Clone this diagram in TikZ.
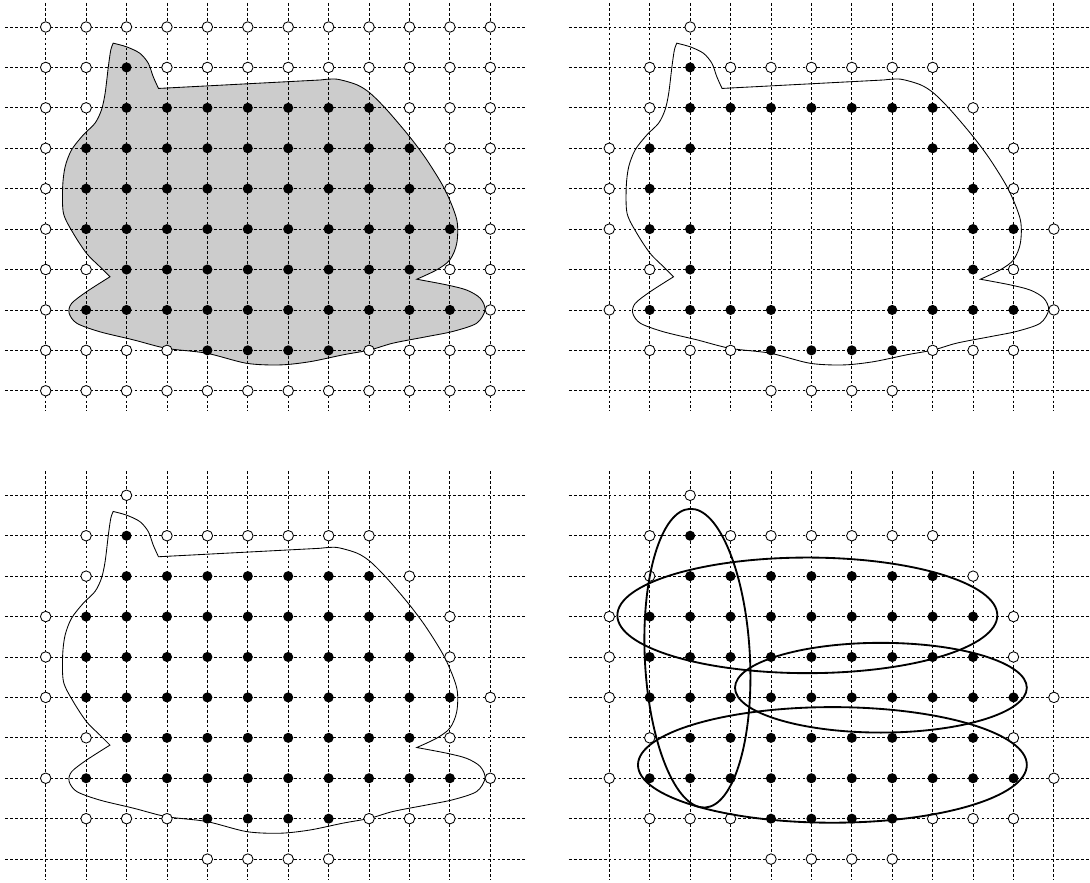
\documentclass[tikz,border=0pt]{standalone}
\begin{document}
\begin{tikzpicture}[
  gridline/.style={line width=0.6pt, dash pattern=on 2pt off 1.5pt},
  wdot/.style={circle, draw, fill=white, line width=0.6pt, inner sep=0pt, minimum size=0.26cm},
  bdot/.style={circle, fill=black, inner sep=0pt, minimum size=0.25cm},
  outline/.style={line width=0.6pt},
  cover/.style={line width=1.3pt},
]
\useasboundingbox (0,0) rectangle (26.967,-21.821);

\newcommand\blobpath{%
  plot[smooth] coordinates {(1.67,0.40) (2.0,0.49) (2.33,0.65) (2.54,0.9) (2.66,1.23) (2.79,1.52)}
  -- plot[smooth] coordinates {(6.8,1.31) (7.2,1.29) (7.7,1.43) (8.03,1.64) (8.44,2.05) (9.0,2.71) (9.43,3.29) (9.88,4.03) (10.17,4.77) (10.17,5.35) (10.0,5.76) (9.67,6.01) (9.18,6.24)}
  -- plot[smooth] coordinates {(9.18,6.24) (9.92,6.38) (10.42,6.51) (10.75,6.71) (10.87,7.0) (10.66,7.33) (10.08,7.53) (9.43,7.66) (8.6,7.82) (8.02,7.99) (7.36,8.11) (6.54,8.28) (5.8,8.36) (4.97,8.32) (3.98,8.07) (2.99,7.95) (2.17,7.74) (1.34,7.54) (0.77,7.33) (0.58,7.08) (0.64,6.84) (1.01,6.55) (1.59,6.18)}
  -- plot[smooth] coordinates {(1.59,6.18) (1.34,5.93) (1.01,5.60) (0.68,5.10) (0.44,4.61) (0.42,3.95) (0.48,3.46) (0.64,3.04) (0.93,2.67) (1.22,2.38) (1.38,2.05) (1.47,1.64) (1.55,0.98) (1.61,0.57) (1.67,0.40)}
  -- cycle}

\newcommand\panelgrid{%
  \foreach \i in {0,...,11} {\draw[gridline] (\i,-0.6) -- (\i,9.5);}
  \foreach \j in {0,...,9} {\draw[gridline] (-1,\j) -- (11.9,\j);}}

% row-wise point sets: #1 style, #2 name prefix, #3 row, #4 list of columns
\newcommand\dotrow[4]{\foreach \i in {#4} {\node[#1] (#2-\i-#3) at (\i,#3) {};}}

\newcommand\blackall[1]{%
  \dotrow{bdot}{#1}{1}{2}
  \dotrow{bdot}{#1}{2}{2,...,8}
  \dotrow{bdot}{#1}{3}{1,...,9}
  \dotrow{bdot}{#1}{4}{1,...,9}
  \dotrow{bdot}{#1}{5}{1,...,10}
  \dotrow{bdot}{#1}{6}{2,...,9}
  \dotrow{bdot}{#1}{7}{1,...,10}
  \dotrow{bdot}{#1}{8}{4,...,7}}

\newcommand\whitefour[1]{%
  \dotrow{wdot}{#1}{0}{2}
  \dotrow{wdot}{#1}{1}{1,3,4,5,6,7,8}
  \dotrow{wdot}{#1}{2}{1,9}
  \dotrow{wdot}{#1}{3}{0,10}
  \dotrow{wdot}{#1}{4}{0,10}
  \dotrow{wdot}{#1}{5}{0,11}
  \dotrow{wdot}{#1}{6}{1,10}
  \dotrow{wdot}{#1}{7}{0,11}
  \dotrow{wdot}{#1}{8}{1,2,3,8,9,10}
  \dotrow{wdot}{#1}{9}{4,5,6,7}}

% ---------------- top left ----------------
\begin{scope}[shift={(1.1306,-0.668)}, yscale=-1]
  \fill[black!20] \blobpath;
  \panelgrid
  \draw[outline] \blobpath;
  \blackall{tl}
  \dotrow{wdot}{tl}{0}{0,...,11}
  \dotrow{wdot}{tl}{1}{0,1,3,4,5,6,7,8,9,10,11}
  \dotrow{wdot}{tl}{2}{0,1,9,10,11}
  \dotrow{wdot}{tl}{3}{0,10,11}
  \dotrow{wdot}{tl}{4}{0,10,11}
  \dotrow{wdot}{tl}{5}{0,11}
  \dotrow{wdot}{tl}{6}{0,1,10,11}
  \dotrow{wdot}{tl}{7}{0,11}
  \dotrow{wdot}{tl}{8}{0,1,2,3,8,9,10,11}
  \dotrow{wdot}{tl}{9}{0,...,11}
\end{scope}

% ---------------- top right ----------------
\begin{scope}[shift={(15.074,-0.668)}, yscale=-1]
  \panelgrid
  \draw[outline] \blobpath;
  \dotrow{bdot}{tr}{1}{2}
  \dotrow{bdot}{tr}{2}{2,...,8}
  \dotrow{bdot}{tr}{3}{1,2,8,9}
  \dotrow{bdot}{tr}{4}{1,9}
  \dotrow{bdot}{tr}{5}{1,2,9,10}
  \dotrow{bdot}{tr}{6}{2,9}
  \dotrow{bdot}{tr}{7}{1,2,3,4,7,8,9,10}
  \dotrow{bdot}{tr}{8}{4,...,7}
  \whitefour{tr}
\end{scope}

% ---------------- bottom left ----------------
\begin{scope}[shift={(1.1306,-12.254)}, yscale=-1]
  \panelgrid
  \draw[outline] \blobpath;
  \blackall{bl}
  \whitefour{bl}
\end{scope}

% ---------------- bottom right ----------------
\begin{scope}[shift={(15.074,-12.254)}, yscale=-1]
  \panelgrid
  \blackall{br}
  \whitefour{br}
  \draw[cover, rotate around={-2.9:(2.18,4.03)}] (2.18,4.03) ellipse (1.3 and 3.7);
  \draw[cover] (4.9,2.97) ellipse (4.7 and 1.43);
  \draw[cover] (6.72,4.76) ellipse (3.61 and 1.11);
  \draw[cover] (5.52,6.67) ellipse (4.81 and 1.43);
\end{scope}
\end{tikzpicture}
\end{document}
